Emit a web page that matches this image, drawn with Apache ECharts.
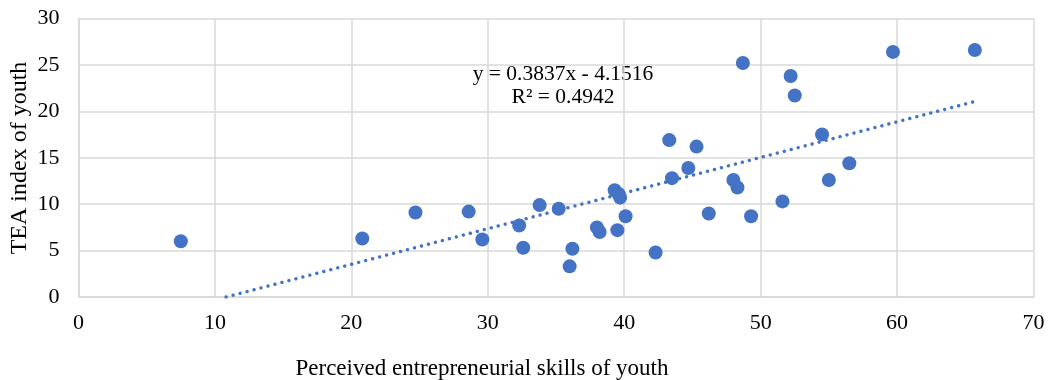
<!DOCTYPE html>
<html>
<head>
<meta charset="utf-8">
<script src="https://cdn.jsdelivr.net/npm/echarts@6/dist/echarts.min.js"></script>
<style>
  html, body { margin: 0; padding: 0; background: #fff; }
  #chart { width: 1055px; height: 380px; }
</style>
</head>
<body>
<div id="chart"></div>
<script>
// Perceived entrepreneurial skills of youth (x) vs TEA index of youth (y)
const skills = [7.5, 20.8, 24.7, 28.6, 29.6, 32.3, 32.6, 33.8, 35.2, 36.0, 36.2, 38.0, 38.2,
  39.3, 39.6, 39.7, 39.5, 40.1, 42.3, 43.3, 43.5, 44.7, 45.3, 46.2, 48.0, 48.3, 48.7,
  49.3, 51.6, 52.2, 52.5, 54.5, 55.0, 56.5, 59.7, 65.7];
const tea = [6.0, 6.3, 9.1, 9.2, 6.2, 7.7, 5.3, 9.9, 9.5, 3.3, 5.2, 7.5, 7.0,
  11.5, 11.1, 10.7, 7.2, 8.7, 4.8, 16.9, 12.8, 13.9, 16.2, 9.0, 12.6, 11.8, 25.2,
  8.7, 10.3, 23.8, 21.7, 17.5, 12.6, 14.4, 26.4, 26.6];

// Linear trend reported for the data
const slope = 0.3837;
const intercept = -4.1516;
const rSquared = 0.4942;

const xTicks = [0, 10, 20, 30, 40, 50, 60, 70];
const yTicks = [0, 5, 10, 15, 20, 25, 30];

const xTitle = 'Perceived entrepreneurial skills of youth';
const yTitle = 'TEA index of youth';

const points = skills.map((x, i) => [x, tea[i]]);
const xStart = -intercept / slope;
const xEnd = Math.max(...skills);
const trend = [[xStart, slope * xStart + intercept], [xEnd, slope * xEnd + intercept]];

const blue = '#4472C4';
const gridGray = '#D9D9D9';
const serif = '"Liberation Serif", "Times New Roman", serif';

const chart = echarts.init(document.getElementById('chart'), null, { renderer: 'canvas' });
chart.setOption({
  animation: false,
  textStyle: { fontFamily: serif },
  grid: {
    left: 78.5, right: 21.5, top: 18.5, bottom: 83,
    containLabel: false, outerBoundsMode: 'none'
  },
  xAxis: {
    type: 'value',
    min: xTicks[0], max: xTicks[xTicks.length - 1], interval: 10,
    axisLine: { show: true, lineStyle: { color: gridGray, width: 1.5 } },
    axisTick: { show: false },
    axisLabel: { fontFamily: serif, fontSize: 22, color: '#000', margin: 15 },
    splitLine: { show: true, lineStyle: { color: gridGray, width: 1.5 } }
  },
  yAxis: {
    type: 'value',
    min: yTicks[0], max: yTicks[yTicks.length - 1], interval: 5,
    axisLine: { show: true, lineStyle: { color: gridGray, width: 1.5 } },
    axisTick: { show: false },
    axisLabel: { fontFamily: serif, fontSize: 22, color: '#000', margin: 19 },
    splitLine: { show: true, lineStyle: { color: gridGray, width: 1.5 } }
  },
  series: [
    {
      type: 'line',
      data: trend,
      showSymbol: false,
      symbol: 'none',
      silent: true,
      z: 1,
      lineStyle: { color: blue, width: 3.4, type: [0.01, 7.2], cap: 'round' }
    },
    {
      type: 'scatter',
      data: points,
      symbol: 'circle',
      symbolSize: 14,
      z: 2,
      itemStyle: { color: blue, opacity: 1 }
    }
  ],
  graphic: [
    {
      // horizontal axis title
      type: 'text', x: 482, y: 369,
      style: {
        text: xTitle, font: '23px ' + serif, fill: '#000',
        textAlign: 'center', textVerticalAlign: 'middle'
      }
    },
    {
      // vertical axis title
      type: 'text', x: 20, y: 158, rotation: Math.PI / 2,
      style: {
        text: yTitle, font: '24px ' + serif, fill: '#000',
        textAlign: 'center', textVerticalAlign: 'middle'
      }
    },
    {
      type: 'text', x: 563, y: 74,
      style: {
        text: 'y = ' + slope + 'x - ' + Math.abs(intercept), font: '21.5px ' + serif, fill: '#000',
        textAlign: 'center', textVerticalAlign: 'middle'
      }
    },
    {
      type: 'text', x: 563, y: 97.5,
      style: {
        text: 'R² = ' + rSquared, font: '21.5px ' + serif, fill: '#000',
        textAlign: 'center', textVerticalAlign: 'middle'
      }
    }
  ]
});
</script>
</body>
</html>
